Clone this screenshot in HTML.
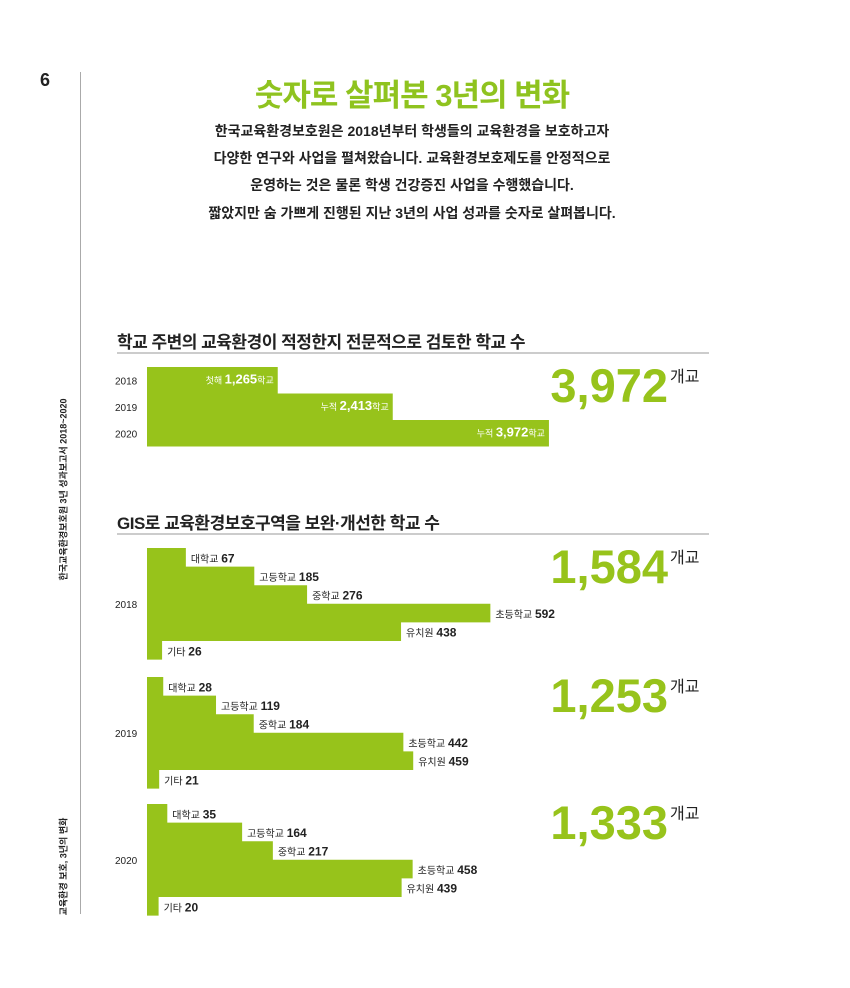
<!DOCTYPE html>
<html><head><meta charset="utf-8">
<style>
*{margin:0;padding:0;box-sizing:border-box}
body{width:850px;height:988px;background:#fff;position:relative;overflow:hidden;font-family:"Liberation Sans","Noto Sans CJK KR",sans-serif;color:#222}
.abs{position:absolute}
.g{color:#8fc31f}
.para{left:150px;width:524px;text-align:center;font-size:14px;font-weight:bold;color:#222}
.sec{left:117px;font-size:17px;font-weight:bold;color:#222;letter-spacing:-0.5px}
.rule{left:117px;width:592px;height:2px;background:#ccc}
.vt{transform:rotate(-90deg);transform-origin:center;font-size:9px;font-weight:bold;white-space:nowrap;color:#222}
</style></head><body>
<div class="abs" style="left:40px;top:70px;font-size:18px;font-weight:bold">6</div>
<div class="abs" style="left:80px;top:72px;width:1px;height:842px;background:#aaa"></div>
<div class="abs vt" style="left:-27px;top:484px;width:180px;text-align:center">한국교육환경보호원 3년 성과보고서 2018~2020</div>
<div class="abs vt" style="left:3px;top:860px;width:120px;text-align:center">교육환경 보호, 3년의 변화</div>
<div class="abs g" style="left:150px;top:70px;width:524px;text-align:center;font-size:31px;font-weight:bold;letter-spacing:-1px">숫자로 살펴본 3년의 변화</div>
<div class="abs para" style="top:121px">한국교육환경보호원은 2018년부터 학생들의 교육환경을 보호하고자</div>
<div class="abs para" style="top:148px">다양한 연구와 사업을 펼쳐왔습니다. 교육환경보호제도를 안정적으로</div>
<div class="abs para" style="top:175px">운영하는 것은 물론 학생 건강증진 사업을 수행했습니다.</div>
<div class="abs para" style="top:203px">짧았지만 숨 가쁘게 진행된 지난 3년의 사업 성과를 숫자로 살펴봅니다.</div>

<div class="abs sec" style="top:328px">학교 주변의 교육환경이 적정한지 전문적으로 검토한 학교 수</div>
<div class="abs rule" style="top:352px"></div>
<div class="abs sec" style="top:509px">GIS로 교육환경보호구역을 보완·개선한 학교 수</div>
<div class="abs rule" style="top:533px"></div>

<svg class="abs" style="left:0;top:0" width="850" height="988" font-family="Liberation Sans, Noto Sans CJK KR, sans-serif">
<g id="c1"></g><g id="c2"></g>
</svg>
<script>
const NS='http://www.w3.org/2000/svg';
const GREEN='#97c31b';
// chart 1 data
const c1Years=['2018','2019','2020'];
const c1Values=[1265,2413,3972];
const c1Prefix=['첫해','누적','누적'];
const c1Total='3,972';
// chart 2 data
const c2Years=['2018','2019','2020'];
const c2Categories=['대학교','고등학교','중학교','초등학교','유치원','기타'];
const c2Values2018=[67,185,276,592,438,26];
const c2Values2019=[28,119,184,442,459,21];
const c2Values2020=[35,164,217,458,439,20];
const c2Totals=['1,584','1,253','1,333'];

function mk(tag,attrs,parent,name){const e=document.createElementNS(NS,tag);for(const k in attrs)e.setAttribute(k,attrs[k]);parent.appendChild(e);return e;}
function fmt(v){return v.toLocaleString('en-US');}

const c1=document.getElementById('c1');
const x1=v=>147+(v-0)*(551-147)/3972*0.985+ (v>0?4:0);
const rowTop1=367,rowH1=26.5;
// stepped polygon
let pts=[];
pts.push([147,rowTop1]);
c1Values.forEach((v,i)=>{pts.push([x1(v),rowTop1+i*rowH1]);pts.push([x1(v),rowTop1+(i+1)*rowH1]);});
pts.push([147,rowTop1+c1Values.length*rowH1]);
const p1=mk('polygon',{points:pts.map(p=>p.join(',')).join(' '),fill:GREEN},c1);


c1Values.forEach((v,i)=>{
  const y=rowTop1+i*rowH1+rowH1/2+4;
  const t=mk('text',{x:115,y:y,'font-size':10,fill:'#222'},c1);t.textContent=c1Years[i];
  
  
  const l=mk('text',{x:x1(v)-4,y:y-1,'text-anchor':'end',fill:'#fff','font-size':9},c1);
  
  
  const a=mk('tspan',{},l);a.textContent=c1Prefix[i]+' ';
  const b=mk('tspan',{'font-size':13,'font-weight':'bold'},l);b.textContent=fmt(v);
  const c=mk('tspan',{},l);c.textContent='학교';
});
function bigTotal(parent,txt,y,name){
  const t=mk('text',{x:668,y:y,'text-anchor':'end','font-size':47,'font-weight':'bold',fill:GREEN},parent);t.textContent=txt;
  
  
  const u=mk('text',{x:670,y:y-20,'font-size':16,fill:'#222'},parent);u.textContent='개교';
  
  
}
bigTotal(c1,c1Total,402,'chart1-total');

const c2=document.getElementById('c2');
const x2=v=>147+v*0.58;
const groups=[c2Values2018,c2Values2019,c2Values2020];
const groupTops=[548,677,804];
const rowH2=18.6;
groups.forEach((vals,gi)=>{
  const top=groupTops[gi];
  let pp=[];
  vals.forEach((v,i)=>{pp.push([x2(v),top+i*rowH2]);pp.push([x2(v),top+(i+1)*rowH2]);});
  pp.push([147,top+vals.length*rowH2]);pp.unshift([147,top]);
  const p=mk('polygon',{points:pp.map(q=>q.join(',')).join(' '),fill:GREEN},c2);
  
  
  vals.forEach((v,i)=>{
    const y=top+i*rowH2+rowH2/2+5;
    const l=mk('text',{x:x2(v)+5,y:y,fill:'#222'},c2);
    
    
    const a=mk('tspan',{'font-size':10},l);a.textContent=c2Categories[i]+' ';
    const b=mk('tspan',{'font-size':12,'font-weight':'bold'},l);b.textContent=fmt(v);
  });
  const yt=mk('text',{x:115,y:top+vals.length*rowH2/2+4,'font-size':10,fill:'#222'},c2);yt.textContent=c2Years[gi];
  
  
  bigTotal(c2,c2Totals[gi],top+35,'chart2-total-'+c2Years[gi]);
});
</script>
</body></html>
